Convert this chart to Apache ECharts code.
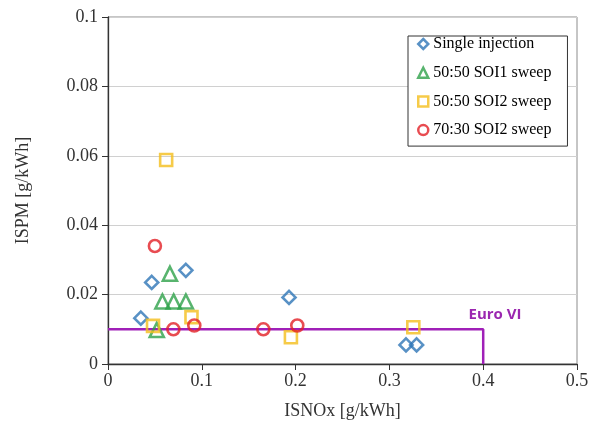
<!DOCTYPE html>
<html>
<head>
<meta charset="utf-8">
<script src="https://cdn.jsdelivr.net/npm/echarts@6/dist/echarts.min.js"></script>
<style>html,body{margin:0;padding:0;background:#fff}#c{width:592px;height:431px}</style>
</head>
<body>
<div id="c"></div>
<script>
// Data
var singleX = [0.035, 0.0466, 0.083, 0.193, 0.3177, 0.329];
var singleY = [0.0132, 0.0235, 0.027, 0.0192, 0.0055, 0.0055];
var soi1X = [0.052, 0.058, 0.066, 0.070, 0.083];
var soi1Y = [0.0098, 0.018, 0.026, 0.018, 0.018];
var soi2aX = [0.048, 0.062, 0.089, 0.195, 0.3255];
var soi2aY = [0.011, 0.0588, 0.0135, 0.0077, 0.0106];
var soi2bX = [0.050, 0.0697, 0.092, 0.1656, 0.2018];
var soi2bY = [0.034, 0.010, 0.0111, 0.010, 0.0111];
var euroX = [0, 0.4, 0.4];
var euroY = [0.01, 0.01, 0];
var euroLabelPos = [0.4126, 0.0141];
var seriesNames = ['Single injection', '50:50 SOI1 sweep', '50:50 SOI2 sweep', '70:30 SOI2 sweep'];
var xTicks = [0, 0.1, 0.2, 0.3, 0.4, 0.5];
var yTicks = [0, 0.02, 0.04, 0.06, 0.08, 0.1];

function pairs(xs, ys) { return xs.map(function (x, i) { return [x, ys[i]]; }); }

var serif = '"Liberation Serif", "DejaVu Serif", serif';
var chart = echarts.init(document.getElementById('c'));
function sc(name, xs, ys, symbol, size, color) {
  return {
    name: name, type: 'scatter', data: pairs(xs, ys), symbol: symbol, symbolSize: size, z: 3,
    itemStyle: { color: 'rgba(255,255,255,0)', borderColor: color, borderWidth: 2.6 }
  };
}
chart.setOption({
  backgroundColor: '#fff',
  animation: false,
  grid: { left: 108, top: 17, width: 469, height: 347, show: true, borderColor: '#8c8c8c', borderWidth: 1 },
  legend: {
    data: seriesNames, orient: 'vertical', left: 408, top: 36,
    padding: [0, 16, 8, 9], itemGap: 12.7, itemWidth: 10, itemHeight: 10,
    itemStyle: { borderWidth: 2.5 },
    borderColor: '#333', borderWidth: 1, backgroundColor: '#fff',
    textStyle: { fontFamily: serif, fontSize: 16, color: '#000' }
  },
  xAxis: {
    type: 'value', min: 0, max: 0.5, interval: 0.1,
    name: 'ISNOx [g/kWh]', nameLocation: 'middle', nameGap: 38,
    nameTextStyle: { fontFamily: serif, fontSize: 18, color: '#333' },
    axisLine: { lineStyle: { color: '#333', width: 1.3 } },
    axisTick: { show: true, length: 6, lineStyle: { color: '#333' } },
    axisLabel: { fontFamily: serif, fontSize: 18, color: '#333', margin: 8,
      formatter: function (v) { return String(+v.toFixed(2)); } },
    splitLine: { show: false }
  },
  yAxis: {
    type: 'value', min: 0, max: 0.1, interval: 0.02,
    name: 'ISPM [g/kWh]', nameLocation: 'middle', nameGap: 76, nameRotate: 90,
    nameTextStyle: { fontFamily: serif, fontSize: 18, color: '#333' },
    axisLine: { show: true, lineStyle: { color: '#333', width: 1.3 } },
    axisTick: { show: true, length: 6, lineStyle: { color: '#333' } },
    axisLabel: { fontFamily: serif, fontSize: 18, color: '#333', margin: 10,
      formatter: function (v) { return String(+v.toFixed(2)); } },
    splitLine: { show: true, lineStyle: { color: '#d0d0d0', width: 1 } }
  },
  series: [
    {
      name: 'Euro VI', type: 'line', data: pairs(euroX, euroY), symbol: 'none', z: 2,
      lineStyle: { color: '#a020b8', width: 2.5 },
      markPoint: {
        symbol: 'circle', symbolSize: 0,
        data: [{ coord: euroLabelPos }],
        label: { show: true, formatter: 'Euro VI', color: '#9b27b0', fontWeight: 'bold',
          fontFamily: '"Open Sans", "DejaVu Sans", sans-serif', fontSize: 15 }
      }
    },
    sc(seriesNames[0], singleX, singleY, 'diamond', 13, '#2e75b6'),
    sc(seriesNames[1], soi1X, soi1Y, 'triangle', 14, '#2ea14a'),
    sc(seriesNames[2], soi2aX, soi2aY, 'rect', 12, '#f4be1c'),
    sc(seriesNames[3], soi2bX, soi2bY, 'circle', 12, '#e21f26')
  ]
});
</script>
</body>
</html>
